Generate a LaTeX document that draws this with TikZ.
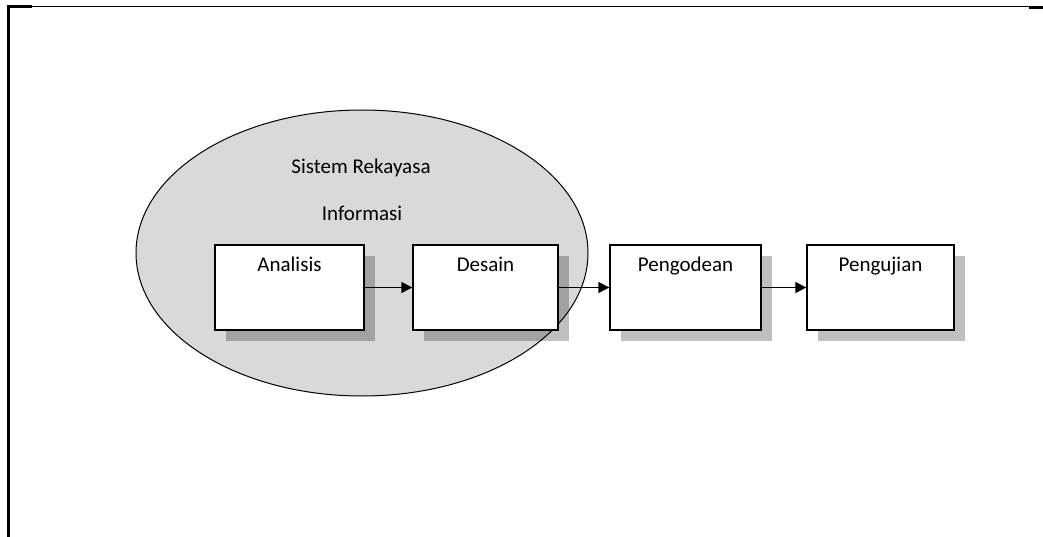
\documentclass[tikz,border=0pt]{standalone}
\usepackage{fontspec}
\setmainfont{Carlito}
\usetikzlibrary{arrows.meta,calc}
\definecolor{ellgray}{RGB}{217,217,217}
\tikzset{
  procbox/.style={draw=black, line width=1.4pt, fill=white, minimum width=149pt, minimum height=85pt, inner sep=0pt},
  lbl/.style={font=\fontsize{21}{25}\selectfont},
  boxlbl/.style={lbl, anchor=base, yshift=-27pt, inner sep=0pt},
  shadowbox/.style={fill=black, fill opacity=0.25, draw=none},
  flow/.style={line width=1.4pt, -{Triangle[length=11pt,width=11pt]}},
  thinframe/.style={line width=1pt},
  thickframe/.style={line width=3pt}
}
\begin{document}
\begin{tikzpicture}[x=1pt,y=-1pt]
\useasboundingbox (0,0) rectangle (1043,537);
% frame
\draw[thinframe] (8,7) -- (1043,7);
\draw[thickframe] (7,7) -- (32,7);
\draw[thickframe] (1029,7.5) -- (1043,7.5);
\draw[thickframe] (8.5,5.5) -- (8.5,537);
% ellipse
\draw[fill=ellgray, line width=1pt] (362,253) ellipse [x radius=226, y radius=143];
\node[lbl] (t1) at (361,168) {Sistem Rekayasa};
\node[lbl] (t2) at (362,213) {Informasi};
% shadows
\fill[shadowbox] (226,256) rectangle (375,341);
\fill[shadowbox] (424,256) rectangle (569,341);
\fill[shadowbox] (621,256) rectangle (772,341);
\fill[shadowbox] (818,256) rectangle (965,341);
% boxes
\node[procbox, minimum width=149pt, label={[boxlbl]north:Analisis}] (a) at (289.5,287.5) {};
\node[procbox, minimum width=145pt, label={[boxlbl]north:Desain}] (d) at (485.5,287.5) {};
\node[procbox, minimum width=151pt, label={[boxlbl]north:Pengodean}] (p) at (685.5,287.5) {};
\node[procbox, minimum width=147pt, label={[boxlbl]north:Pengujian}] (u) at (880.5,287.5) {};
% arrows
\draw[flow] (a.east) -- (d.west);
\draw[flow] (d.east) -- (p.west);
\draw[flow] (p.east) -- (u.west);
\end{tikzpicture}
\end{document}
